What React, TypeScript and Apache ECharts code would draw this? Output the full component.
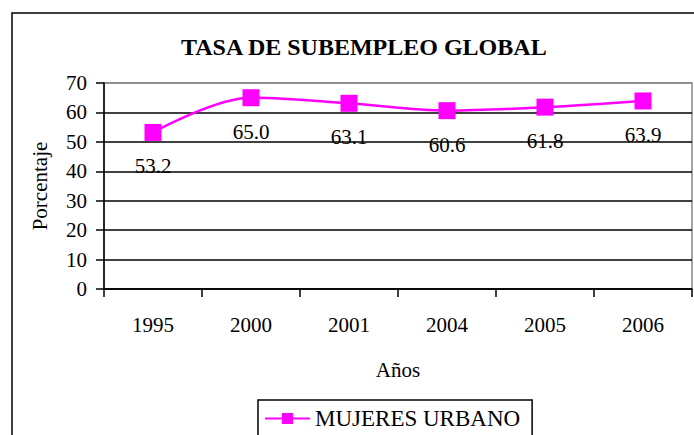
import React, { useEffect, useRef } from "react";
import * as echarts from "echarts";

const categories = ["1995", "2000", "2001", "2004", "2005", "2006"];
const mujeresUrbano = [53.2, 65.0, 63.1, 60.6, 61.8, 63.9];
const yTicks = [0, 10, 20, 30, 40, 50, 60, 70];

const FONT = "Liberation Serif";

export default function App() {
  const ref = useRef<HTMLDivElement>(null);
  useEffect(() => {
    if (!ref.current) return;
    const chart = echarts.init(ref.current, undefined, { renderer: "svg" });
    chart.setOption({
      animation: false,
      backgroundColor: "#fff",
      textStyle: { fontFamily: FONT },
      title: {
        text: "TASA DE SUBEMPLEO GLOBAL",
        left: 176,
        top: 30,
        textStyle: { fontFamily: FONT, fontSize: 24, fontWeight: "bold", color: "#000" },
      },
      grid: {
        left: 104,
        right: 2,
        top: 83,
        bottom: 146,
        show: true,
        borderColor: "#888",
        borderWidth: 1.5,
      },
      xAxis: {
        type: "category",
        data: categories,
        boundaryGap: true,
        name: "Años",
        nameLocation: "middle",
        nameGap: 70,
        nameTextStyle: { fontFamily: FONT, fontSize: 21, color: "#000" },
        axisLine: { lineStyle: { color: "#000", width: 1.5 } },
        axisTick: { show: true, length: 8, lineStyle: { color: "#000", width: 1.5 } },
        axisLabel: { fontFamily: FONT, fontSize: 21, color: "#000", margin: 25 },
        splitLine: { show: false },
      },
      yAxis: {
        type: "value",
        min: yTicks[0],
        max: yTicks[yTicks.length - 1],
        interval: 10,
        name: "Porcentaje",
        nameLocation: "middle",
        nameGap: 54,
        nameTextStyle: { fontFamily: FONT, fontSize: 21, color: "#000" },
        axisLine: { show: true, lineStyle: { color: "#000", width: 1.5 } },
        axisTick: { show: true, length: 8, lineStyle: { color: "#000", width: 1.5 } },
        axisLabel: { fontFamily: FONT, fontSize: 21, color: "#000", margin: 17 },
        splitLine: {
          show: true,
          lineStyle: {
            color: ["#000", "#000", "#000", "#000", "#000", "#000", "#000", "#888"],
            width: 1.5,
          },
        },
      },
      legend: {
        left: 258,
        top: 400,
        padding: [7, 12, 30, 6],
        borderColor: "#000",
        borderWidth: 1.5,
        itemWidth: 45,
        itemHeight: 14,
        itemGap: 4,
        textStyle: { fontFamily: FONT, fontSize: 23, color: "#000" },
        data: ["MUJERES URBANO"],
      },
      graphic: [
        {
          type: "rect",
          shape: { x: 12, y: 13, width: 720, height: 460 },
          style: { fill: "none", stroke: "#000", lineWidth: 1.5 },
          silent: true,
          z: -1,
        },
      ],
      series: [
        {
          name: "MUJERES URBANO",
          type: "line",
          data: mujeresUrbano,
          smooth: 0.35,
          symbol: "rect",
          symbolSize: 17,
          itemStyle: { color: "#FF00FF" },
          lineStyle: { color: "#FF00FF", width: 2.5 },
          label: {
            show: true,
            position: "bottom",
            distance: 15,
            formatter: (p: any) => Number(p.value).toFixed(1),
            fontFamily: FONT,
            fontSize: 21,
            color: "#000",
          },
        },
      ],
    });
    return () => chart.dispose();
  }, []);
  return (
    <div
      ref={ref}
      style={{ position: "absolute", left: 0, top: 0, width: 694, height: 435 }}
    />
  );
}
